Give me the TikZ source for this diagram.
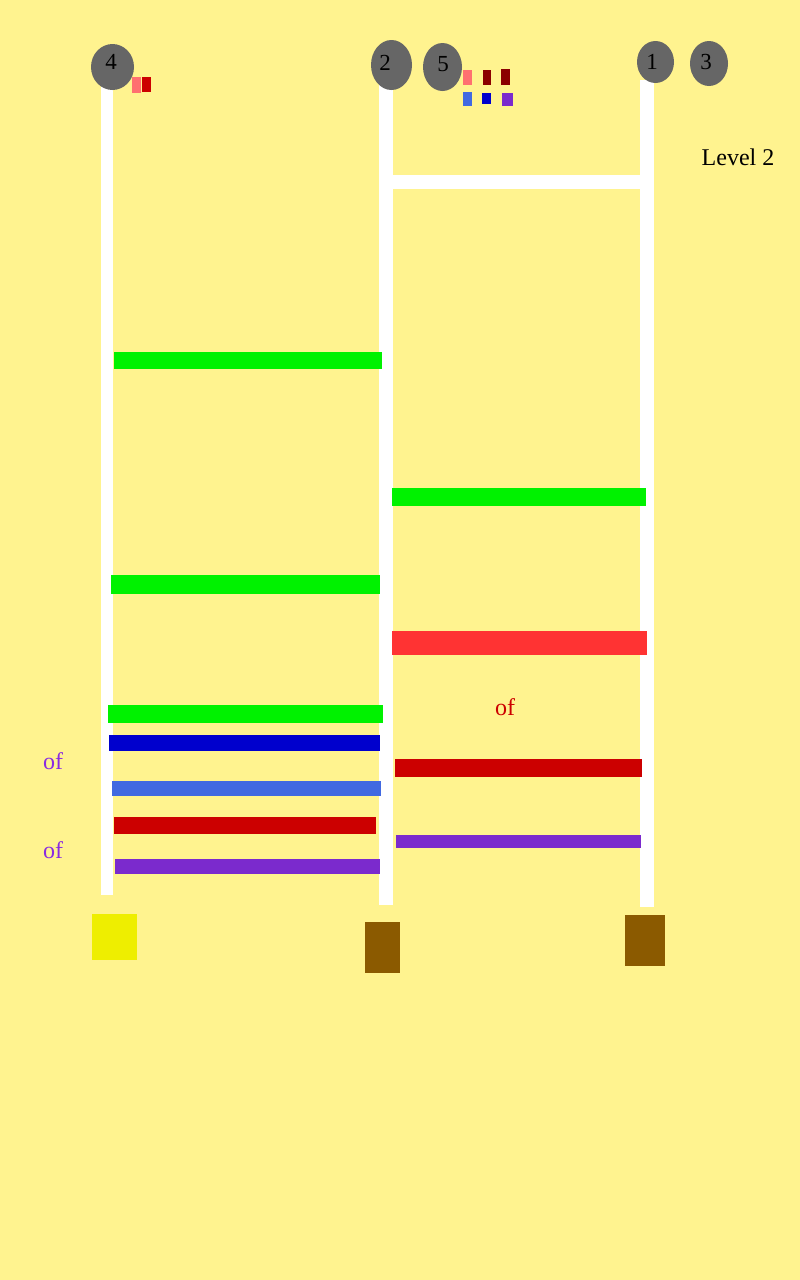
\documentclass[tikz,border=0pt]{standalone}
\usepackage{fontspec}
\setmainfont{Liberation Serif}
\definecolor{bg}{HTML}{FFF38F}
\definecolor{knob}{HTML}{666666}
\definecolor{lime}{HTML}{00F200}
\definecolor{deepred}{HTML}{CC0000}
\definecolor{brightred}{HTML}{FF3333}
\definecolor{salmon}{HTML}{FF7070}
\definecolor{darkred}{HTML}{8B0000}
\definecolor{royal}{HTML}{4169E1}
\definecolor{mblue}{HTML}{0000CD}
\definecolor{violet}{HTML}{7B2ACD}
\definecolor{ofviolet}{HTML}{8A2BE2}
\definecolor{yel}{HTML}{EEEE00}
\definecolor{brown}{HTML}{8B5A00}
\tikzset{
  numlabel/.style={inner sep=0pt, anchor=center, font=\fontsize{23}{26}\selectfont},
  oflabel/.style={inner sep=0pt, anchor=center, font=\fontsize{24}{28}\selectfont},
}
\begin{document}
\begin{tikzpicture}[x=1pt,y=-1pt]
\fill[bg] (0,0) rectangle (800,1280);
\useasboundingbox (0,0) rectangle (800,1280);
% posts
\fill[white] (101,85) rectangle (113,895);
\fill[white] (379,85) rectangle (393,905);
\fill[white] (640,80) rectangle (654,907);
% top rung
\fill[white] (393,175) rectangle (640,189);
% knobs
\fill[knob] (112.5,67) ellipse [x radius=21.5pt, y radius=23pt];
\fill[knob] (391.5,65) ellipse [x radius=20.5pt, y radius=25pt];
\fill[knob] (442.5,67) ellipse [x radius=19.5pt, y radius=24pt];
\fill[knob] (655.5,62) ellipse [x radius=18.5pt, y radius=21pt];
\fill[knob] (709,63.5) ellipse [x radius=19pt, y radius=22.5pt];
\node[numlabel] (n4) at (111,62) {4};
\node[numlabel] (n2) at (385,63) {2};
\node[numlabel] (n5) at (443,64) {5};
\node[numlabel] (n1) at (652,62) {1};
\node[numlabel] (n3) at (706,62) {3};
% small squares
\fill[salmon] (132,77) rectangle (141,93);
\fill[deepred] (142,77) rectangle (151,92);
\fill[salmon] (463,70) rectangle (472,85);
\fill[darkred] (483,70) rectangle (491,85);
\fill[darkred] (501,69) rectangle (510,85);
\fill[royal] (463,92) rectangle (472,106);
\fill[mblue] (482,93) rectangle (491,104);
\fill[violet] (502,93) rectangle (513,106);
% label
\node[oflabel] (lvl) at (738,157) {Level 2};
% bars
\fill[lime] (114,352) rectangle (382,369);
\fill[lime] (392,488) rectangle (646,506);
\fill[lime] (111,575) rectangle (380,594);
\fill[brightred] (392,631) rectangle (647,655);
\fill[lime] (108,705) rectangle (383,723);
\fill[mblue] (109,735) rectangle (380,751);
\fill[deepred] (395,759) rectangle (642,777);
\fill[royal] (112,781) rectangle (381,796);
\fill[deepred] (114,817) rectangle (376,834);
\fill[violet] (396,835) rectangle (641,848);
\fill[violet] (115,859) rectangle (380,874);
% of labels
\node[oflabel, text=deepred] (of1) at (505,707.5) {of};
\node[oflabel, text=ofviolet] (of2) at (53,761.5) {of};
\node[oflabel, text=ofviolet] (of3) at (53,850) {of};
% bottom blocks
\fill[yel] (92,914) rectangle (137,960);
\fill[brown] (365,922) rectangle (400,973);
\fill[brown] (625,915) rectangle (665,966);
\end{tikzpicture}
\end{document}
